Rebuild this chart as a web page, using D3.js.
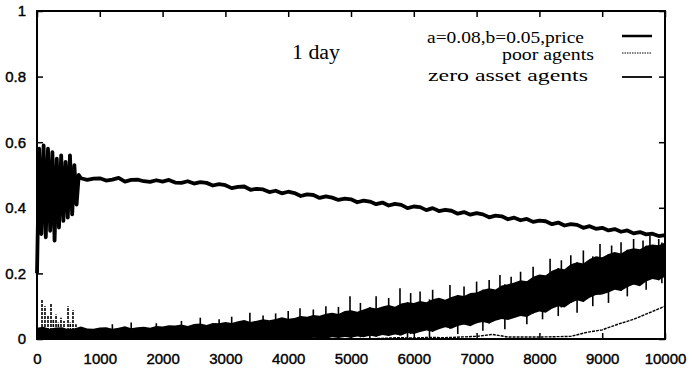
<!DOCTYPE html>
<html>
<head>
<meta charset="utf-8">
<script src="https://cdn.jsdelivr.net/npm/d3@7/dist/d3.min.js"></script>
<style>
body { margin: 0; background: #fff; }
svg { display: block; }
</style>
</head>
<body>
<svg></svg>
<script>
// tick labels
const xTicks = [0, 1000, 2000, 3000, 4000, 5000, 6000, 7000, 8000, 9000, 10000];
const yTicks = [0, 0.2, 0.4, 0.6, 0.8, 1];
const yTickLabels = ['0', '0.2', '0.4', '0.6', '0.8', '1'];

// price, steps 0..665 every 35 (start-up oscillation)
const priceEarly = [0.2, 0.58, 0.32, 0.59, 0.31, 0.58, 0.33, 0.57, 0.3, 0.55,
  0.34, 0.56, 0.36, 0.54, 0.37, 0.56, 0.38, 0.53, 0.41, 0.5];
// price, steps 700..10000 every 100
const priceLate = [0.49, 0.485, 0.489, 0.49, 0.483, 0.486, 0.491, 0.48, 0.485, 0.486,
  0.481, 0.479, 0.484, 0.48, 0.485, 0.477, 0.476, 0.481, 0.474, 0.478,
  0.476, 0.468, 0.472, 0.469, 0.46, 0.464, 0.465, 0.455, 0.458, 0.456,
  0.448, 0.452, 0.444, 0.449, 0.445, 0.436, 0.441, 0.439, 0.43, 0.435,
  0.431, 0.424, 0.428, 0.426, 0.417, 0.422, 0.419, 0.411, 0.416, 0.407,
  0.412, 0.409, 0.399, 0.404, 0.402, 0.393, 0.399, 0.39, 0.394, 0.391,
  0.382, 0.387, 0.379, 0.384, 0.38, 0.371, 0.376, 0.374, 0.365, 0.37,
  0.362, 0.366, 0.357, 0.361, 0.359, 0.35, 0.355, 0.346, 0.35, 0.348,
  0.339, 0.344, 0.336, 0.339, 0.331, 0.335, 0.327, 0.331, 0.322, 0.326,
  0.319, 0.321, 0.314, 0.317];

// poor agents band, steps 0..10000 every 100 (top and bottom of the dense band)
const poorHigh = [0.034, 0.037, 0.031, 0.035, 0.036, 0.03, 0.033, 0.038, 0.032, 0.031,
  0.035, 0.036, 0.031, 0.034, 0.039, 0.033, 0.036, 0.037, 0.034, 0.04,
  0.038, 0.042, 0.041, 0.044, 0.04, 0.046, 0.047, 0.043, 0.049, 0.048,
  0.052, 0.049, 0.054, 0.058, 0.052, 0.056, 0.06, 0.057, 0.061, 0.066,
  0.062, 0.064, 0.07, 0.068, 0.073, 0.071, 0.077, 0.08, 0.076, 0.085,
  0.088, 0.083, 0.09, 0.097, 0.093, 0.099, 0.104, 0.098, 0.108, 0.112,
  0.11, 0.116, 0.112, 0.121, 0.126, 0.12, 0.128, 0.134, 0.131, 0.14,
  0.142, 0.15, 0.155, 0.151, 0.163, 0.167, 0.172, 0.179, 0.176, 0.19,
  0.197, 0.194, 0.208, 0.216, 0.213, 0.228, 0.234, 0.23, 0.244, 0.252,
  0.249, 0.259, 0.265, 0.261, 0.272, 0.277, 0.274, 0.284, 0.288, 0.286,
  0.294];
const poorLow = [0, 0, 0, 0, 0, 0, 0, 0, 0, 0,
  0, 0, 0, 0, 0, 0, 0, 0, 0, 0,
  0, 0, 0, 0, 0, 0, 0, 0, 0, 0,
  0, 0, 0, 0, 0, 0, 0, 0, 0, 0,
  0, 0.002, 0, 0.001, 0.004, 0.002, 0.001, 0.005, 0.003, 0.006,
  0.004, 0.008, 0.005, 0.01, 0.007, 0.012, 0.009, 0.014, 0.011, 0.018,
  0.015, 0.021, 0.026, 0.022, 0.03, 0.036, 0.031, 0.04, 0.044, 0.039,
  0.048, 0.052, 0.047, 0.056, 0.061, 0.058, 0.064, 0.07, 0.067, 0.078,
  0.084, 0.08, 0.092, 0.1, 0.096, 0.11, 0.118, 0.113, 0.126, 0.134,
  0.136, 0.142, 0.15, 0.146, 0.158, 0.166, 0.161, 0.175, 0.183, 0.179,
  0.19];
// isolated spikes of poor agents [step, value]
const poorSpikesEarly = [[80, 0.12], [127, 0.1], [175, 0.07], [223, 0.11], [260, 0.06],
  [303, 0.075], [340, 0.05], [382, 0.065], [430, 0.055], [494, 0.1], [530, 0.05],
  [573, 0.088], [620, 0.045]];
const poorSpikes = [[1200, 0.045], [1500, 0.05], [1900, 0.048], [2300, 0.055], [2600, 0.065],
  [2900, 0.06], [3100, 0.068], [3390, 0.08], [3600, 0.072], [3800, 0.078], [4000, 0.085],
  [4188, 0.094], [4400, 0.09], [4600, 0.1], [4800, 0.098], [4984, 0.13], [5150, 0.11],
  [5400, 0.13], [5600, 0.125], [5780, 0.155], [5950, 0.14], [6100, 0.145], [6300, 0.15],
  [6576, 0.165], [6800, 0.16], [7000, 0.175], [7200, 0.18], [7372, 0.195], [7550, 0.19],
  [7700, 0.205], [7900, 0.22], [8170, 0.245], [8350, 0.24], [8500, 0.255], [8700, 0.27],
  [8965, 0.29], [9150, 0.285], [9300, 0.295], [9500, 0.305], [9650, 0.3], [9760, 0.315],
  [9900, 0.305]];
const poorDips = [[5300, 0], [5900, 0], [6250, 0.005], [6700, 0.015], [7100, 0.025],
  [7450, 0.03], [7800, 0.045], [8050, 0.06], [8300, 0.07], [8600, 0.08], [8850, 0.1],
  [9100, 0.11], [9400, 0.13], [9700, 0.15], [9950, 0.17]];

// zero asset agents, steps 0..10000 every 250
const zeroAsset = [0, 0, 0, 0, 0, 0, 0, 0, 0, 0,
  0, 0, 0, 0, 0, 0, 0, 0, 0, 0,
  0, 0, 0.002, 0.004, 0.003, 0.005, 0.004, 0.006, 0.008, 0.014,
  0.006, 0.006, 0.006, 0.007, 0.008, 0.02, 0.028, 0.045, 0.06, 0.08,
  0.1];

const legendLabels = ['a=0.08,b=0.05,price', 'poor agents', 'zero asset agents'];

const WIDTH = 692;
const HEIGHT = 378;

let svg = d3.select('svg').attr('width', WIDTH).attr('height', HEIGHT);

let xScale = d3.scaleLinear().domain([0, 10000]).range([37, 665]);
let yScale = d3.scaleLinear().domain([0, 1]).range([339, 11]);

const tickFont = "'Liberation Sans', Arial, sans-serif";
const textFont = "'Liberation Serif', 'DejaVu Serif', serif";

// axes with inward ticks
let axLeft = svg.append('g').attr('transform', 'translate(37,0)')
  .call(d3.axisLeft(yScale).tickValues(yTicks).tickSizeInner(-6).tickSizeOuter(0)
    .tickPadding(11).tickFormat((d, i) => yTickLabels[i]));
let axBottom = svg.append('g').attr('transform', 'translate(0,339)')
  .call(d3.axisBottom(xScale).tickValues(xTicks).tickSizeInner(-6).tickSizeOuter(0)
    .tickPadding(14).tickFormat(d3.format('d')));
let axRight = svg.append('g').attr('transform', 'translate(665,0)')
  .call(d3.axisRight(yScale).tickValues(yTicks).tickSizeInner(-6).tickSizeOuter(0).tickFormat(''));
let axTop = svg.append('g').attr('transform', 'translate(0,11)')
  .call(d3.axisTop(xScale).tickValues(xTicks).tickSizeInner(-6).tickSizeOuter(0).tickFormat(''));

[axLeft, axBottom, axRight, axTop].forEach(g => {
  g.select('.domain').remove();
  g.selectAll('line').attr('stroke', '#000').attr('stroke-width', 1.5);
  g.selectAll('text').attr('font-family', tickFont).attr('font-size', 15).attr('fill', '#000')
    .attr('stroke', '#000').attr('stroke-width', 0.4);
});

// poor agents: dense band
svg.append('path')
  .datum(poorHigh)
  .attr('d', d3.area()
    .x((d, i) => xScale(i * 100))
    .y0((d, i) => yScale(poorLow[i]))
    .y1(d => yScale(d)))
  .attr('fill', '#000');

svg.selectAll('.spike-early').data(poorSpikesEarly).enter().append('line')
  .attr('class', 'spike-early')
  .attr('x1', d => xScale(d[0])).attr('x2', d => xScale(d[0]))
  .attr('y1', yScale(0)).attr('y2', d => yScale(d[1]))
  .attr('stroke', '#000').attr('stroke-width', 1.6).attr('stroke-dasharray', '3,1');

svg.selectAll('.spike').data(poorSpikes).enter().append('line')
  .attr('class', 'spike')
  .attr('x1', d => xScale(d[0])).attr('x2', d => xScale(d[0]))
  .attr('y1', d => yScale(poorLow[Math.round(d[0] / 100)]))
  .attr('y2', d => yScale(d[1]))
  .attr('stroke', '#000').attr('stroke-width', 1.6);

svg.selectAll('.dip').data(poorDips).enter().append('line')
  .attr('class', 'dip')
  .attr('x1', d => xScale(d[0])).attr('x2', d => xScale(d[0]))
  .attr('y1', d => yScale(poorHigh[Math.round(d[0] / 100)]))
  .attr('y2', d => yScale(d[1]))
  .attr('stroke', '#000').attr('stroke-width', 1.6);

// zero asset agents
svg.append('path')
  .datum(zeroAsset)
  .attr('d', d3.line().x((d, i) => xScale(i * 250)).y(d => yScale(d)))
  .attr('fill', 'none').attr('stroke', '#000').attr('stroke-width', 1.4)
  .attr('stroke-dasharray', '3,1');

// price
let pricePts = priceEarly.map((v, i) => [i * 35, v])
  .concat(priceLate.map((v, i) => [700 + i * 100, v]));
svg.append('path')
  .datum(pricePts)
  .attr('d', d3.line().x(d => xScale(d[0])).y(d => yScale(d[1])))
  .attr('fill', 'none').attr('stroke', '#000').attr('stroke-width', 3.8)
  .attr('stroke-linejoin', 'round');

// frame
svg.append('rect')
  .attr('x', 37).attr('y', 11).attr('width', 628).attr('height', 328)
  .attr('fill', 'none').attr('stroke', '#000').attr('stroke-width', 2);

// title inside plot
svg.append('text').text('1 day')
  .attr('x', 292).attr('y', 59)
  .attr('font-family', textFont).attr('font-size', 20)
  .attr('textLength', 48).attr('lengthAdjust', 'spacingAndGlyphs');

// legend
const legendX = [584, 594, 588];
const legendY = [43, 60, 81];
const legendW = [157, 92, 160];
const legendLineY = [36, 53, 77];
legendLabels.forEach((t, i) => {
  svg.append('text').text(t)
    .attr('x', legendX[i] - legendW[i]).attr('y', legendY[i])
    .attr('font-family', textFont).attr('font-size', 17)
    .attr('textLength', legendW[i]).attr('lengthAdjust', 'spacingAndGlyphs');
});
svg.append('line').attr('x1', 622).attr('x2', 652).attr('y1', legendLineY[0]).attr('y2', legendLineY[0])
  .attr('stroke', '#000').attr('stroke-width', 2.5);
svg.append('line').attr('x1', 622).attr('x2', 652).attr('y1', legendLineY[1]).attr('y2', legendLineY[1])
  .attr('stroke', '#000').attr('stroke-width', 1).attr('stroke-dasharray', '1.5,1');
svg.append('line').attr('x1', 622).attr('x2', 652).attr('y1', legendLineY[2]).attr('y2', legendLineY[2])
  .attr('stroke', '#000').attr('stroke-width', 1.8);
</script>
</body>
</html>
